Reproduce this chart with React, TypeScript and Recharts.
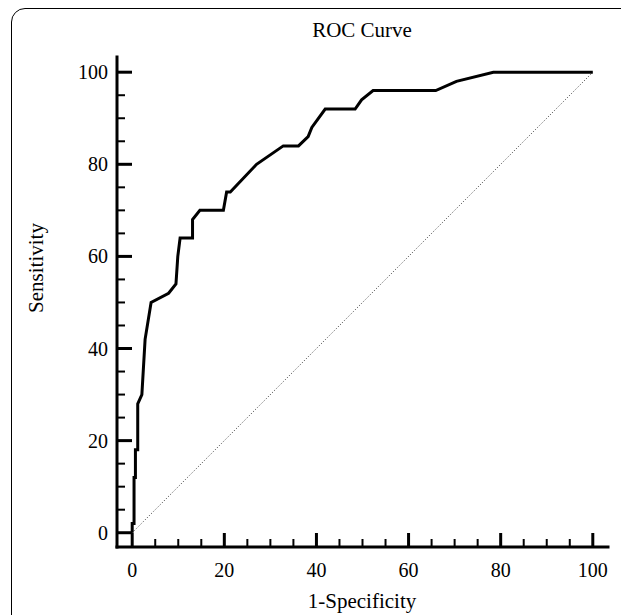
import { Label, Line, LineChart, XAxis, YAxis } from 'recharts'

// ROC points (1-specificity %, sensitivity %)
const fpr = [0, 0, 0.4, 0.4, 0.7, 0.7, 1.2, 1.2, 2.1, 2.8, 4.1, 7.9, 9.5, 9.9, 10.4, 13.1, 13.1, 14.7, 19.8, 20.5, 21.3, 27.0, 32.8, 36.1, 38.2, 39.0, 41.9, 48.4, 49.8, 52.3, 65.9, 70.4, 78.4, 100]
const tpr = [0, 2, 2, 12, 12, 18, 18, 28, 30, 42, 50, 52, 54, 60, 64, 64, 68, 70, 70, 74, 74, 80, 84, 84, 86, 88, 92, 92, 94, 96, 96, 98, 100, 100]

// chance diagonal
const refX = [0, 100]
const refY = [0, 100]

const ticks = [0, 5, 10, 15, 20, 25, 30, 35, 40, 45, 50, 55, 60, 65, 70, 75, 80, 85, 90, 95, 100]
const majorTicks = [0, 20, 40, 60, 80, 100]

const rocData = fpr.map((x, i) => ({ x, y: tpr[i] }))
const refData = refX.map((x, i) => ({ x, y: refY[i] }))

const FONT = '"Liberation Serif", "Times New Roman", serif'

function XTick({ x, y, payload }: any) {
  const major = majorTicks.includes(payload.value)
  return (
    <g>
      <line x1={x} y1={y} x2={x} y2={y - (major ? 14 : 8)} stroke="#000" strokeWidth={major ? 3 : 2} />
      {major && (
        <text x={x} y={y + 30} textAnchor="middle" fontSize={20} fontFamily={FONT} fill="#000">
          {payload.value}
        </text>
      )}
    </g>
  )
}

function YTick({ x, y, payload }: any) {
  const major = majorTicks.includes(payload.value)
  return (
    <g>
      <line x1={x} y1={y} x2={x + (major ? 15 : 8)} y2={y} stroke="#000" strokeWidth={major ? 3 : 2} />
      {major && (
        <text x={x - 9} y={y + 7} textAnchor="end" fontSize={20} fontFamily={FONT} fill="#000">
          {payload.value}
        </text>
      )}
    </g>
  )
}

export default function App() {
  return (
    <div
      style={{
        position: 'absolute',
        left: 0,
        top: 0,
        width: 621,
        height: 615,
        overflow: 'hidden',
        background: '#fff',
      }}
    >
      <div
        style={{
          position: 'absolute',
          left: 11,
          top: 8,
          width: 700,
          height: 700,
          border: '1.5px solid #000',
          borderTopLeftRadius: 14,
        }}
      />
      <div
        style={{
          position: 'absolute',
          left: 262,
          top: 18,
          width: 200,
          textAlign: 'center',
          fontFamily: FONT,
          fontSize: 21,
          color: '#000',
        }}
      >
        ROC Curve
      </div>
      <div style={{ position: 'absolute', left: 0, top: 0 }}>
        <LineChart width={621} height={615} margin={{ top: 57, right: 13, bottom: 28, left: 57 }}>
          <XAxis
            type="number"
            dataKey="x"
            domain={[-3.3, 103.3]}
            ticks={ticks}
            interval={0}
            height={40}
            tickSize={0}
            tickMargin={0}
            tickLine={false}
            tick={<XTick />}
            axisLine={{ stroke: '#000', strokeWidth: 3, strokeLinecap: 'square' }}
            allowDataOverflow
          >
            <Label
              content={() => (
                <text x={362} y={608} textAnchor="middle" fontSize={21} fontFamily={FONT} fill="#000">
                  1-Specificity
                </text>
              )}
            />
          </XAxis>
          <YAxis
            type="number"
            dataKey="y"
            domain={[-3.1, 103.3]}
            ticks={ticks}
            interval={0}
            width={60}
            tickSize={0}
            tickMargin={0}
            tickLine={false}
            tick={<YTick />}
            axisLine={{ stroke: '#000', strokeWidth: 3, strokeLinecap: 'square' }}
            allowDataOverflow
          >
            <Label
              content={() => (
                <text
                  x={43}
                  y={268}
                  transform="rotate(-90, 43, 268)"
                  textAnchor="middle"
                  fontSize={21}
                  fontFamily={FONT}
                  fill="#000"
                >
                  Sensitivity
                </text>
              )}
            />
          </YAxis>
          <Line
            data={refData}
            dataKey="y"
            type="linear"
            stroke="#333"
            strokeWidth={1}
            strokeDasharray="1 2"
            dot={false}
            activeDot={false}
            isAnimationActive={false}
          />
          <Line
            data={rocData}
            dataKey="y"
            type="linear"
            stroke="#000"
            strokeWidth={3}
            dot={false}
            activeDot={false}
            isAnimationActive={false}
          />
        </LineChart>
      </div>
    </div>
  )
}
